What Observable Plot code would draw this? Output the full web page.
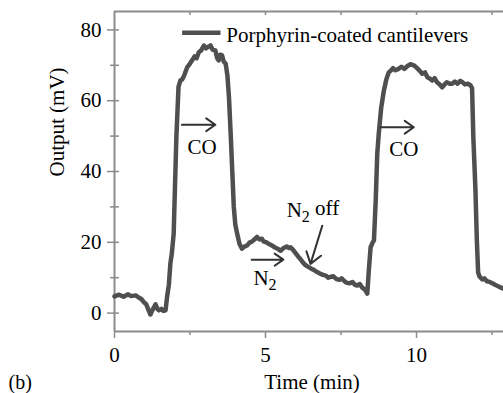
<!DOCTYPE html>
<html>
<head>
<meta charset="utf-8">
<script src="https://cdn.jsdelivr.net/npm/d3@7"></script>
<script src="https://cdn.jsdelivr.net/npm/@observablehq/plot@0.6"></script>
<style>
  html, body { margin: 0; padding: 0; background: #fff; }
  #chart svg { display: block; }
  #chart svg text { font-family: "Liberation Serif", serif; }
  #chart svg text.panel { font-family: "Lato", sans-serif; }
</style>
</head>
<body>
<div id="chart"></div>
<script>
// ---- data ----
const time = [
  0.00, 0.15, 0.30, 0.45, 0.55, 0.70, 0.80, 0.90, 0.97, 1.05, 1.12, 1.19, 1.25, 1.30, 1.36, 1.42, 1.47, 1.55, 1.62, 1.69,
  1.74, 1.80, 1.85, 1.90, 1.96, 2.00, 2.05, 2.12, 2.18, 2.24, 2.30, 2.41, 2.50, 2.57, 2.65, 2.72, 2.79, 2.87, 2.96, 3.03,
  3.10, 3.18, 3.25, 3.34, 3.40, 3.45, 3.50, 3.56, 3.62, 3.68, 3.74, 3.79, 3.85, 3.90, 3.95, 4.00, 4.06, 4.14, 4.22, 4.30,
  4.39, 4.47, 4.55, 4.63, 4.72, 4.80, 4.88, 4.94, 5.03, 5.12, 5.21, 5.30, 5.40, 5.50, 5.60, 5.70, 5.78, 5.83, 5.92, 6.00,
  6.08, 6.16, 6.25, 6.33, 6.43, 6.50, 6.60, 6.71, 6.80, 6.90, 7.00, 7.08, 7.15, 7.25, 7.35, 7.45, 7.52, 7.59, 7.68, 7.78,
  7.88, 7.96, 8.04, 8.12, 8.20, 8.27, 8.31, 8.37, 8.42, 8.48, 8.55, 8.59, 8.65, 8.70, 8.75, 8.83, 8.92, 9.00, 9.08, 9.15,
  9.22, 9.30, 9.41, 9.50, 9.60, 9.70, 9.80, 9.91, 10.00, 10.10, 10.19, 10.28, 10.36, 10.45, 10.52, 10.60, 10.68, 10.77, 10.85, 10.93,
  11.00, 11.10, 11.18, 11.27, 11.36, 11.45, 11.51, 11.60, 11.70, 11.79, 11.84, 11.88, 11.95, 12.00, 12.04, 12.09, 12.18, 12.25, 12.33, 12.42,
  12.51, 12.60, 12.70, 12.80, 12.90
];
const output = [
  4.7, 5.2, 4.6, 5.3, 4.8, 5.0, 4.4, 3.9, 3.1, 2.5, 1.0, -0.4, 0.8, 1.5, 2.5, 1.2, 0.8, 1.2, 0.6, 0.8,
  4.5, 8.0, 14.0, 17.0, 22.5, 35.0, 50.0, 64.0, 65.7, 66.0, 67.0, 69.5, 70.5, 71.4, 72.5, 72.0, 73.7, 74.2, 75.6, 74.8,
  75.2, 75.6, 74.4, 74.2, 72.0, 71.4, 73.0, 72.8, 71.0, 70.5, 67.0, 61.0, 50.0, 40.0, 30.0, 25.0, 22.5, 19.5, 18.2, 18.8,
  19.1, 19.9, 20.2, 20.8, 21.5, 20.8, 21.0, 20.2, 20.0, 19.5, 19.1, 18.6, 18.2, 17.6, 18.4, 18.8, 18.4, 18.6, 17.8, 16.9,
  16.0, 15.2, 14.2, 13.5, 13.0, 12.6, 12.2, 11.6, 11.2, 10.8, 10.6, 10.0, 10.2, 10.4, 9.6, 9.4, 9.8, 9.2, 8.6, 8.4,
  8.8, 8.0, 7.8, 8.2, 7.2, 6.8, 6.4, 5.5, 12.0, 18.6, 20.0, 20.5, 32.0, 45.0, 50.7, 58.0, 62.9, 66.0, 68.0, 68.5,
  69.2, 68.6, 69.0, 69.6, 69.0, 69.8, 70.3, 70.0, 69.4, 68.5, 67.6, 68.0, 66.6, 66.2, 65.7, 66.4, 65.2, 64.6, 63.8, 64.6,
  65.2, 64.8, 64.8, 65.4, 64.8, 65.6, 65.3, 64.6, 64.8, 64.3, 63.5, 50.0, 35.0, 20.0, 11.5, 10.3, 9.5, 9.8, 9.0, 8.8,
  8.4, 8.0, 7.6, 7.2, 6.8
];
const seriesName = "Porphyrin-coated cantilevers";

const xDomain = [0, 12.88];
const yDomain = [-5.2, 85.2];
const xMajorTicks = [0, 5, 10];
const xMinorTicks = [2.5, 7.5, 12.5];
const xTopTicks = [2.5, 5, 7.5, 10, 12.5];
const yMajorTicks = [0, 20, 40, 60, 80];
const yMinorTicks = [10, 30, 50, 70];
const yInnerTicks = [0, 10, 20, 30, 40, 50, 60, 70, 80];

const xLabel = "Time (min)";
const yLabel = "Output (mV)";
const panelLabel = "(b)";

// annotation arrows: [x1, y1, x2, y2]
const arrowX1 = [2.23, 8.81, 4.54, 6.88];
const arrowY1 = [53.2, 52.5, 15.1, 24.7];
const arrowX2 = [3.34, 9.91, 5.59, 6.49];
const arrowY2 = [53.2, 52.5, 15.1, 13.9];

// annotation texts
const noteText = ["CO", "CO", "N2", "N2 off"];
const noteX = [2.90, 9.58, 4.60, 5.70];
const noteY = [46.9, 46.4, 9.9, 29.1];
const noteAnchor = ["middle", "middle", "start", "start"];

// legend entry
const legendX1 = 2.24, legendX2 = 3.51, legendY = 79.2;
const legendTextX = 3.70, legendTextY = 78.6;

// ---- build tables ----
const data = time.map((t, i) => ({t, v: output[i]}));
const arrows = arrowX1.map((x, i) => ({x1: x, y1: arrowY1[i], x2: arrowX2[i], y2: arrowY2[i]}));
const notesMid = noteText.map((s, i) => ({s, x: noteX[i], y: noteY[i], a: noteAnchor[i]})).filter(d => d.a === "middle");
const notesStart = noteText.map((s, i) => ({s, x: noteX[i], y: noteY[i], a: noteAnchor[i]})).filter(d => d.a === "start");

const lineColor = "#4f4f4f";
const axisColor = "#8c8c8c";
const serif = "Liberation Serif";
const fs = 21;

const chart = Plot.plot({
  width: 503,
  height: 393,
  marginLeft: 114,
  marginRight: 0,
  marginTop: 11,
  marginBottom: 62,
  style: {fontFamily: serif, fontSize: fs + "px", background: "#fff", color: "#000"},
  x: {domain: xDomain},
  y: {domain: yDomain},
  marks: [
    // frame lines (left, bottom, top)
    Plot.ruleX([xDomain[0]], {stroke: axisColor, strokeWidth: 2}),
    Plot.ruleY(yDomain, {stroke: axisColor, strokeWidth: 2}),
    // axes
    Plot.axisY({ticks: yMajorTicks, tickSize: 7, tickPadding: 6, stroke: axisColor, strokeWidth: 1.5, fill: "#000", label: null, fontSize: fs, fontFamily: serif}),
    Plot.axisY({ticks: yMinorTicks, tickSize: 4, stroke: axisColor, strokeWidth: 1.5, tickFormat: () => "", label: null}),
    Plot.axisY({anchor: "right", frameAnchor: "left", ticks: yInnerTicks, tickSize: 4, stroke: axisColor, strokeWidth: 1.5, tickFormat: () => "", label: null}),
    Plot.axisX({ticks: xMajorTicks, tickSize: 7, tickPadding: 9, stroke: axisColor, strokeWidth: 1.5, fill: "#000", label: null, fontSize: fs, fontFamily: serif}),
    Plot.axisX({ticks: xMinorTicks, tickSize: 4, stroke: axisColor, strokeWidth: 1.5, tickFormat: () => "", label: null}),
    Plot.axisX({anchor: "bottom", frameAnchor: "top", ticks: xTopTicks, tickSize: 4, stroke: axisColor, strokeWidth: 1.5, tickFormat: () => "", label: null}),
    // axis titles
    Plot.text([xLabel], {frameAnchor: "bottom", dx: 3, dy: 57, lineAnchor: "bottom", fontSize: fs, fontFamily: serif}),
    Plot.text([yLabel], {frameAnchor: "left", dx: -51, dy: 5, rotate: -90, lineAnchor: "bottom", fontSize: fs, fontFamily: serif}),
    Plot.text([panelLabel], {frameAnchor: "bottom-left", dx: -106, dy: 57, textAnchor: "start", lineAnchor: "bottom", fontSize: 20, fontFamily: "Lato", className: "panel"}),
    // series
    Plot.line(data, {x: "t", y: "v", stroke: lineColor, strokeWidth: 4.5, strokeLinejoin: "round", strokeLinecap: "round"}),
    // legend
    Plot.link([seriesName], {x1: () => legendX1, x2: () => legendX2, y1: () => legendY, y2: () => legendY, stroke: lineColor, strokeWidth: 4.5}),
    Plot.text([seriesName], {x: () => legendTextX, y: () => legendTextY, text: d => d, textAnchor: "start", lineAnchor: "middle", fontSize: fs, fontFamily: serif}),
    // annotations
    Plot.arrow(arrows, {x1: "x1", y1: "y1", x2: "x2", y2: "y2", stroke: "#333", strokeWidth: 2, headLength: 11, headAngle: 70}),
    Plot.text(notesMid, {x: "x", y: "y", text: "s", textAnchor: "middle", lineAnchor: "middle", fontSize: fs, fontFamily: serif}),
    Plot.text(notesStart, {x: "x", y: "y", text: "s", textAnchor: "start", lineAnchor: "middle", fontSize: fs, fontFamily: serif})
  ]
});

// subscript "2" in N2
chart.querySelectorAll("text").forEach(t => {
  const s = t.textContent;
  if (/^N2/.test(s)) {
    const rest = s.slice(2);
    t.textContent = "N";
    const sub = document.createElementNS("http://www.w3.org/2000/svg", "tspan");
    sub.setAttribute("dy", "0.35em");
    sub.setAttribute("font-size", "16");
    sub.textContent = "2";
    t.appendChild(sub);
    if (rest) {
      const r = document.createElementNS("http://www.w3.org/2000/svg", "tspan");
      r.setAttribute("dy", "-0.35em");
      r.textContent = rest;
      t.appendChild(r);
    }
  }
});

document.getElementById("chart").appendChild(chart);
</script>
</body>
</html>
